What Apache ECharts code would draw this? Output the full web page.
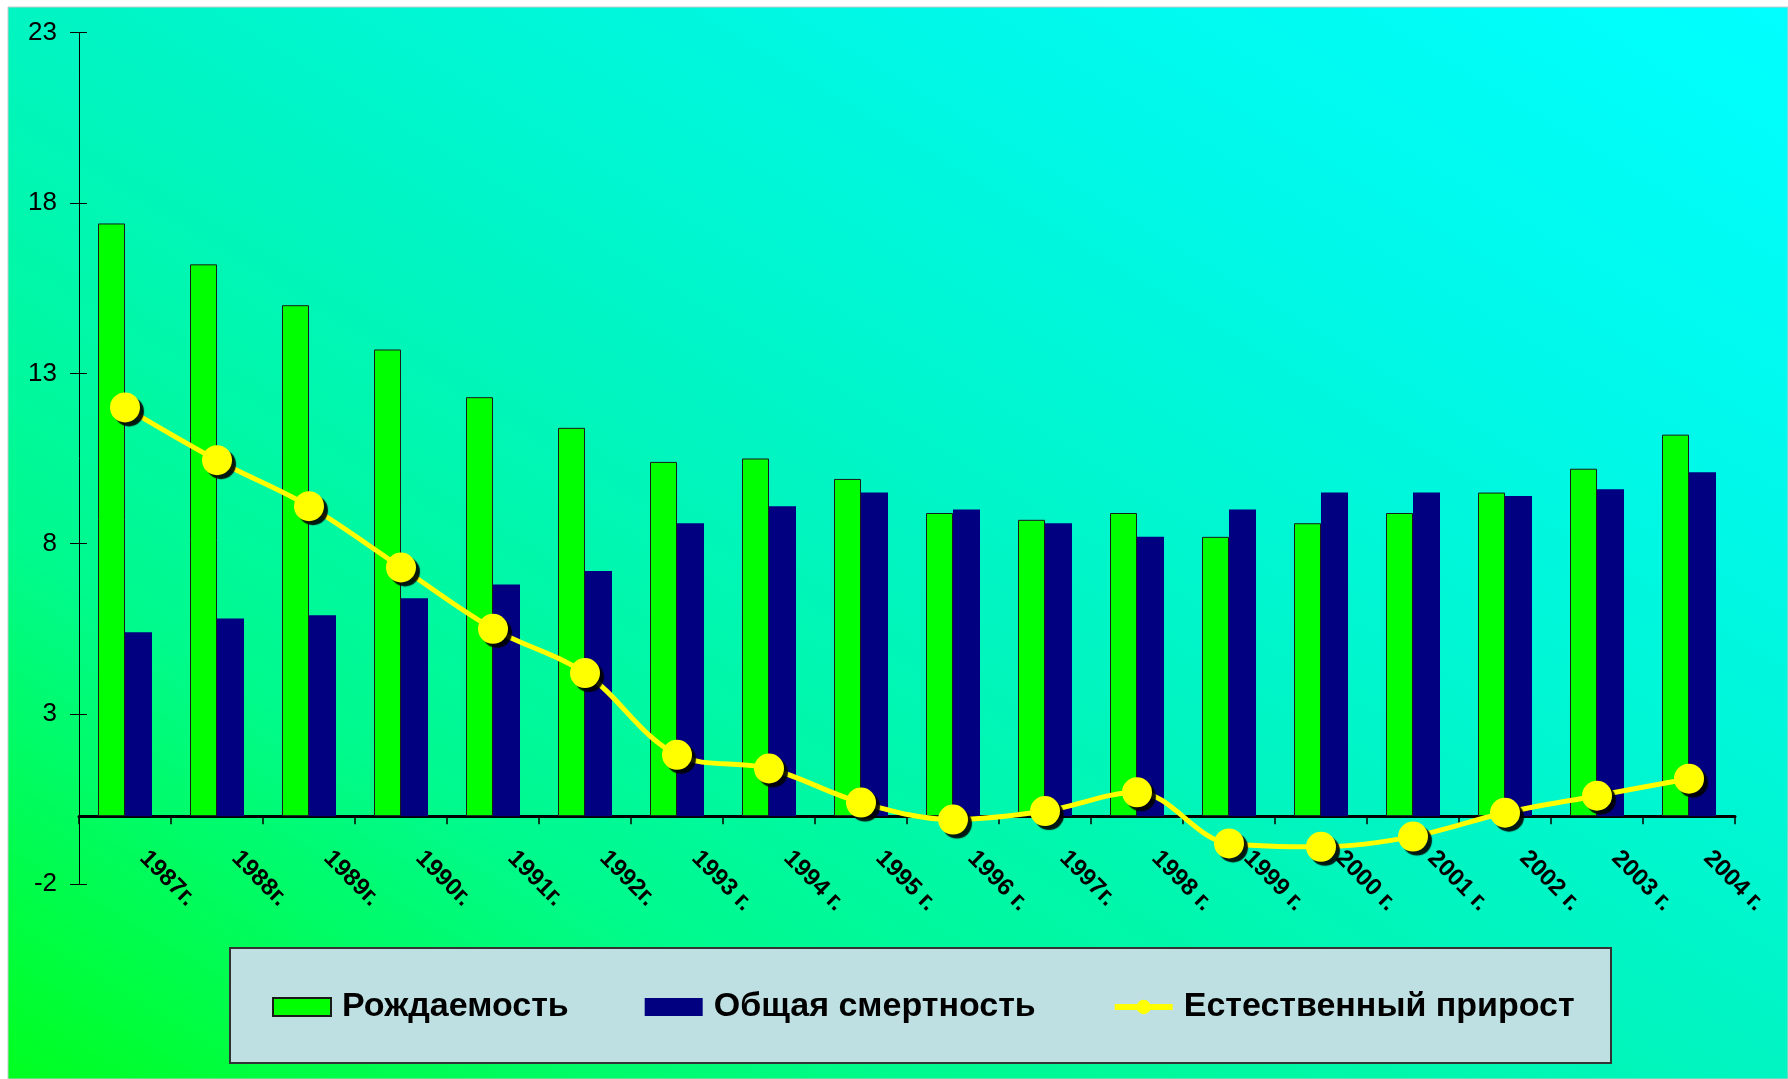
<!DOCTYPE html>
<html><head><meta charset="utf-8">
<script src="https://cdn.jsdelivr.net/npm/echarts@6.0.0/dist/echarts.min.js"></script>
<style>html,body{margin:0;padding:0;background:#fff;overflow:hidden}#c{width:1788px;height:1079px}</style>
</head><body><div id="c"></div>
<script>
const categories = ['1987г.','1988г.','1989г.','1990г.','1991г.','1992г.','1993 г.','1994 г.','1995 г.','1996 г.','1997г.','1998 г.','1999 г.','2000 г.','2001 г.','2002 г.','2003 г.','2004 г.'];
const births  = [17.4, 16.2, 15.0, 13.7, 12.3, 11.4, 10.4, 10.5, 9.9, 8.9, 8.7, 8.9, 8.2, 8.6, 8.9, 9.5, 10.2, 11.2];
const deaths  = [5.4, 5.8, 5.9, 6.4, 6.8, 7.2, 8.6, 9.1, 9.5, 9.0, 8.6, 8.2, 9.0, 9.5, 9.5, 9.4, 9.6, 10.1];
const natural = [12.0, 10.45, 9.1, 7.3, 5.5, 4.2, 1.8, 1.4, 0.4, -0.1, 0.15, 0.7, -0.8, -0.9, -0.6, 0.1, 0.6, 1.1];
const seriesNames = ['Рождаемость', 'Общая смертность', 'Естественный прирост'];
const yMin = -2, yMax = 23, yStep = 5;

const FONT = '"Liberation Sans", Arial, sans-serif';
const chart = echarts.init(document.getElementById('c'), null, {renderer: 'canvas'});
const gridLeft = 79, gridRight = 53, W = 1788;
const plotW = W - gridLeft - gridRight;

chart.setOption({
  animation: false,
  backgroundColor: '#ffffff',
  textStyle: {fontFamily: FONT},
  graphic: {elements: [
    {type: 'rect', z: -100, silent: true,
     shape: {x: 8, y: 7, width: 1780, height: 1072},
     style: {
       fill: new echarts.graphic.LinearGradient(424, 1330, 1372, -244, [
         {offset: 0, color: '#00FF20'},
         {offset: 0.25, color: '#00FA8C'},
         {offset: 0.5, color: '#00F5C2'},
         {offset: 0.75, color: '#00F8E8'},
         {offset: 1, color: '#00FFFF'}
       ], true),
       stroke: '#c8c8c8', lineWidth: 1
     }},
    {type: 'rect', z: -50, silent: true,
     shape: {x: 230, y: 948, width: 1381, height: 115},
     style: {fill: '#BEE0E2', stroke: '#333333', lineWidth: 2}}
  ]},
  grid: {left: gridLeft, right: gridRight, top: 32.7, bottom: 1079 - 884.3, containLabel: false},
  legend: {
    data: [
      {name: seriesNames[0], icon: 'rect'},
      {name: seriesNames[1], icon: 'rect'},
      {name: seriesNames[2]}
    ],
    left: 267, top: 985, z: 5,
    itemWidth: 58, itemHeight: 18, itemGap: 76,
    selectedMode: false,
    lineStyle: {width: 6, color: '#FFFF00'},
    textStyle: {fontSize: 34, fontWeight: 'bold', color: '#000', fontFamily: FONT, padding: [0, 0, 0, 6]}
  },
  xAxis: {
    type: 'category', data: categories, boundaryGap: true,
    axisLine: {onZero: true, lineStyle: {color: '#000', width: 3}},
    axisTick: {show: true, interval: 0, length: 8, lineStyle: {color: '#000', width: 1.5}},
    axisLabel: {interval: 0, rotate: -45, fontSize: 24, fontWeight: 'bold', color: '#000', margin: -48, padding: [0, 0, 0, 26], fontFamily: FONT},
    splitLine: {show: false}
  },
  yAxis: [
    {type: 'value', min: yMin, max: yMax, interval: yStep,
     axisLine: {show: true, lineStyle: {color: '#000', width: 1}},
     axisTick: {show: true, length: 9, lineStyle: {color: '#000', width: 1}},
     axisLabel: {fontSize: 26, color: '#000', margin: 22, fontFamily: FONT},
     splitLine: {show: false}},
    {type: 'value', min: yMin, max: yMax, interval: yStep, position: 'right', offset: -plotW,
     axisLine: {show: false},
     axisTick: {show: true, inside: false, length: 8, lineStyle: {color: '#000', width: 1}},
     axisLabel: {show: false},
     splitLine: {show: false}}
  ],
  series: [
    {name: seriesNames[0], type: 'bar', data: births, yAxisIndex: 0,
     barWidth: 27, barGap: '0%',
     itemStyle: {color: '#00FF00', borderColor: '#1a1a1a', borderWidth: 1}},
    {name: seriesNames[1], type: 'bar', data: deaths, yAxisIndex: 0,
     barWidth: 27, barGap: '0%',
     itemStyle: {color: '#000080'}},
    {name: seriesNames[2], type: 'line', data: natural, yAxisIndex: 0, z: 5,
     smooth: 0.35, symbol: 'circle', symbolSize: 30,
     lineStyle: {color: '#FFFF00', width: 5},
     itemStyle: {color: '#FFFF00', shadowColor: 'rgba(0,0,0,0.9)', shadowOffsetX: 4, shadowOffsetY: 4, shadowBlur: 1}}
  ]
});
</script>
</body></html>
